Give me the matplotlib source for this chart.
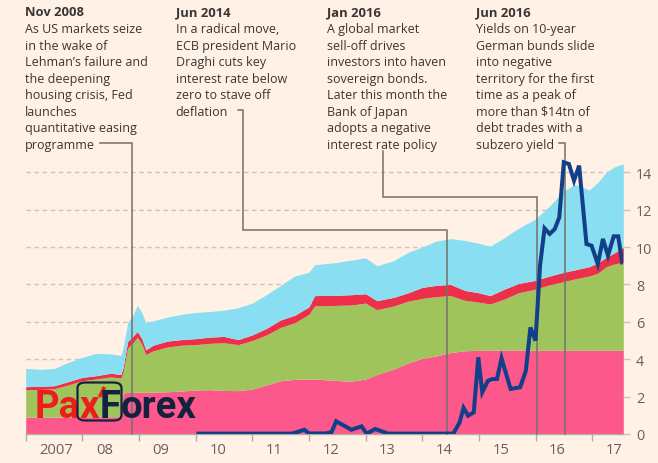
import matplotlib
matplotlib.use("Agg")
import matplotlib.pyplot as plt
from matplotlib.patches import FancyBboxPatch
import numpy as np

# ---------------- data ----------------
t = [2007.0, 2007.25, 2007.5, 2007.75, 2008.0, 2008.25, 2008.5, 2008.68, 2008.72, 2008.8,
     2008.9, 2008.97, 2009.05, 2009.12, 2009.25, 2009.5, 2009.75, 2010.0, 2010.25, 2010.5,
     2010.75, 2011.0, 2011.25, 2011.5, 2011.75, 2012.0, 2012.1, 2012.5, 2012.75, 2013.0,
     2013.2, 2013.5, 2013.75, 2014.0, 2014.25, 2014.5, 2014.75, 2015.0, 2015.2, 2015.45,
     2015.7, 2016.0, 2016.25, 2016.5, 2016.7, 2016.95, 2017.1, 2017.25, 2017.4, 2017.55]

# cumulative level (top edge) of each stacked band, $tn
pink_top = [0.90, 0.90, 0.90, 0.91, 0.92, 0.92, 0.92, 0.93, 2.20, 2.22,
            2.22, 2.23, 2.23, 2.23, 2.24, 2.26, 2.30, 2.35, 2.37, 2.33,
            2.32, 2.40, 2.62, 2.85, 2.92, 2.94, 2.94, 2.86, 2.82, 2.94,
            3.18, 3.48, 3.80, 4.05, 4.18, 4.36, 4.45, 4.48, 4.49, 4.49,
            4.49, 4.48, 4.48, 4.48, 4.48, 4.48, 4.48, 4.48, 4.48, 4.48]
green_top = [2.37, 2.38, 2.42, 2.62, 2.85, 2.95, 3.05, 3.00, 3.30, 4.60,
             4.90, 5.18, 4.80, 4.25, 4.45, 4.65, 4.75, 4.78, 4.85, 4.88,
             4.78, 5.00, 5.30, 5.70, 5.95, 6.40, 6.85, 6.88, 6.90, 7.00,
             6.65, 6.85, 7.10, 7.25, 7.35, 7.40, 7.15, 7.05, 6.95, 7.22,
             7.55, 7.75, 7.98, 8.15, 8.30, 8.45, 8.60, 8.95, 9.10, 9.18]
red_top = [2.53, 2.55, 2.58, 2.80, 3.03, 3.12, 3.25, 3.18, 3.55, 4.95,
           5.25, 5.48, 5.10, 4.50, 4.75, 4.97, 5.05, 5.10, 5.18, 5.22,
           5.05, 5.30, 5.65, 6.10, 6.35, 6.80, 7.40, 7.42, 7.45, 7.50,
           7.13, 7.31, 7.55, 7.84, 7.95, 8.00, 7.68, 7.55, 7.40, 7.75,
           8.05, 8.22, 8.45, 8.65, 8.78, 8.95, 9.15, 9.45, 9.70, 9.98]
blue_top = [3.51, 3.46, 3.50, 3.83, 4.10, 4.32, 4.28, 4.20, 4.60, 5.95,
            6.40, 6.88, 6.50, 5.95, 6.05, 6.25, 6.40, 6.50, 6.55, 6.62,
            6.75, 7.00, 7.45, 7.95, 8.45, 8.65, 9.05, 9.18, 9.30, 9.42,
            9.00, 9.27, 9.72, 10.00, 10.32, 10.45, 10.35, 10.20, 10.05, 10.50,
            11.00, 11.50, 12.20, 13.00, 13.35, 13.05, 13.45, 14.00, 14.30, 14.45]

# negative-yielding debt line
neg_t = [2010.05, 2011.70, 2011.77, 2011.92, 2012.00, 2012.30, 2012.40, 2012.48, 2012.75, 2012.93,
         2013.02, 2013.17, 2013.40, 2014.55, 2014.66, 2014.73, 2014.81, 2014.91, 2014.99, 2015.06,
         2015.16, 2015.24, 2015.32, 2015.40, 2015.56, 2015.73, 2015.83, 2015.91, 2016.00, 2016.08,
         2016.16, 2016.25, 2016.34, 2016.42, 2016.50, 2016.59, 2016.68, 2016.77, 2016.90, 2016.99,
         2017.10, 2017.19, 2017.28, 2017.38, 2017.46, 2017.53]
neg_v = [0.02, 0.02, 0.08, 0.23, 0.03, 0.03, 0.10, 0.68, 0.23, 0.41,
         0.02, 0.27, 0.02, 0.02, 0.62, 1.40, 0.98, 1.16, 4.10, 2.23,
         2.85, 2.94, 2.94, 4.05, 2.41, 2.50, 3.39, 5.70, 4.99, 9.00,
         11.00, 10.70, 10.96, 11.59, 14.53, 14.44, 13.55, 14.35, 10.16, 10.07,
         9.09, 10.43, 9.54, 10.57, 10.57, 9.18]

years = list(range(2007, 2018))
year_labels = ["2007", "08", "09", "10", "11", "12", "13", "14", "15", "16", "17"]
y_ticks = [0, 2, 4, 6, 8, 10, 12, 14]

events = [2008 + 10.5 / 12, 2014 + 5.2 / 12, 2016 + 0.25 / 12, 2016 + 6.25 / 12]
headings = ["Nov 2008", "Jun 2014", "Jan 2016", "Jun 2016"]
bodies = [
    ["As US markets seize", "in the wake of", "Lehman\u2019s failure and", "the deepening",
     "housing crisis, Fed", "launches", "quantitative easing", "programme"],
    ["In a radical move,", "ECB president Mario", "Draghi cuts key", "interest rate below",
     "zero to stave off", "deflation"],
    ["A global market", "sell-off drives", "investors into haven", "sovereign bonds.",
     "Later this month the", "Bank of Japan", "adopts a negative", "interest rate policy"],
    ["Yields on 10-year", "German bunds slide", "into negative", "territory for the first",
     "time as a peak of", "more than \\$14tn of", "debt trades with a", "subzero yield"],
]

# ---------------- style ----------------
PAPER = "#FFF1E5"
TXT = "#3A3532"
GREY = "#66605C"
GRID = "#CEC3B9"
C_PINK = "#FC588C"
C_GREEN = "#A0C45C"
C_RED = "#EC3049"
C_BLUE = "#8ADEF2"
C_LINE = "#123F8A"

W, H = 658, 464
fig = plt.figure(figsize=(W / 100, H / 100), dpi=100)
fig.patch.set_facecolor(PAPER)

x0, x1, yb, yt = 25.7, 623.3, 435.0, 143.3
ax = fig.add_axes([x0 / W, 1 - yb / H, (x1 - x0) / W, (yb - yt) / H])
ax.set_facecolor(PAPER)
ax.set_xlim(2007.0, 2017.55)
ax.set_ylim(0, 15.6)

# gridlines
for v in y_ticks[1:]:
    ax.axhline(v, color=GRID, lw=1.0, ls=(0, (3.2, 2.6)), zorder=0)

# stacked bands
ax.fill_between(t, 0, pink_top, color=C_PINK, lw=0, zorder=1)
ax.fill_between(t, pink_top, green_top, color=C_GREEN, lw=0, zorder=1)
ax.fill_between(t, green_top, red_top, color=C_RED, lw=0, zorder=1)
ax.fill_between(t, red_top, blue_top, color=C_BLUE, lw=0, zorder=1)

# line
ax.plot(neg_t, neg_v, color=C_LINE, lw=2.9, solid_joinstyle="miter", zorder=4)

# axes styling
for s in ["left", "top", "right"]:
    ax.spines[s].set_visible(False)
ax.spines["bottom"].set_color("#B5ABA2")
ax.spines["bottom"].set_linewidth(1.0)
ax.spines["bottom"].set_zorder(2)

ax.set_xticks(years)
ax.set_xticklabels([])
ax.tick_params(axis="x", which="major", length=5, width=1.0, color="#B5ABA2", direction="out")
for yr, lab in zip(years, year_labels):
    ax.text(yr + 0.24, -0.45, lab, ha="left", va="top", fontsize=10.6,
            color=GREY, family="Open Sans")

ax.yaxis.tick_right()
ax.set_yticks(y_ticks)
ax.set_yticklabels([str(v) for v in y_ticks], fontsize=10.4, color=GREY, family="Open Sans")
ax.tick_params(axis="y", length=5, width=1.0, color=GRID, pad=4, direction="out")

# ---------------- annotations ----------------
def fx(px):
    return px / W

def fy(py):
    return 1 - py / H

def date_px(d):
    return fig.transFigure.inverted().transform(ax.transData.transform((d, 0)))[0] * W

text_x = [25.0, 175.7, 327.3, 476.0]
base0, step = 16.5, 16.55
for tx, head, body in zip(text_x, headings, bodies):
    fig.text(fx(tx), fy(base0), head, ha="left", va="baseline", fontsize=9.4,
             fontweight="bold", color=TXT, family="Open Sans")
    for i, line in enumerate(body):
        fig.text(fx(tx), fy(base0 + step * (i + 1)), line, ha="left", va="baseline",
                 fontsize=9.0, color=TXT, family="Open Sans")

e1, e2, e3, e4 = [date_px(d) for d in events]
paths = [
    [(100, 144), (e1, 144), (e1, yb)],
    [(238, 111), (243, 111), (243, 231), (e2, 231), (e2, yb)],
    [(383, 152), (383, 198.3), (e3, 198.3), (e3, yb)],
    [(559, 144), (e4, 144), (e4, yb)],
]
for p in paths:
    xs = [fx(a) for a, b in p]
    ys = [fy(b) for a, b in p]
    ax.plot(xs, ys, transform=fig.transFigure, clip_on=False, color="#75706B",
            lw=1.1, zorder=3, solid_joinstyle="miter")

# ---------------- watermark logo ----------------
LOGO_RED = "#EE1C1C"
LOGO_NAVY = "#13233F"
box = FancyBboxPatch((fx(77.5), fy(421.5)), fx(121.5) - fx(77.5), fy(383.5) - fy(421.5),
                     boxstyle="round,pad=0,rounding_size=0.012", transform=fig.transFigure,
                     fill=False, edgecolor=LOGO_NAVY, lw=1.6, zorder=10)
fig.add_artist(box)
logo_kw = dict(va="baseline", ha="left", fontsize=27.5, fontweight="bold", family="Roboto")
fig.text(fx(35.0), fy(418.5), "Pa", color=LOGO_RED, **logo_kw)
fig.text(fx(79.5), fy(418.5), "x", color=LOGO_RED, **logo_kw)
fig.text(fx(99.5), fy(418.5), "F", color=LOGO_NAVY, **logo_kw)
fig.text(fx(121.0), fy(418.5), "orex", color=LOGO_NAVY, **logo_kw)
fig.add_artist(plt.Line2D([fx(99.5), fx(104.5)], [fy(398), fy(388)], transform=fig.transFigure,
                          color=LOGO_RED, lw=2.6, solid_capstyle="butt"))

fig.savefig("out.png", dpi=100, facecolor=PAPER)
